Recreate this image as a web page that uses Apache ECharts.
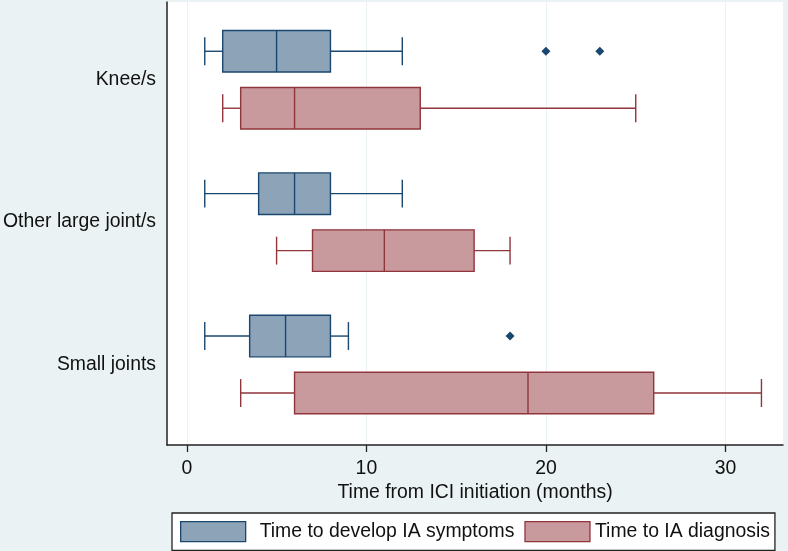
<!DOCTYPE html>
<html>
<head>
<meta charset="utf-8">
<script src="https://cdn.jsdelivr.net/npm/echarts@6/dist/echarts.min.js"></script>
<style>
html,body{margin:0;padding:0;background:#eaf2f3;}
#chart{width:788px;height:551px;}
</style>
</head>
<body>
<div id="chart"></div>
<script>
// ---- data ----
const categories = ['Knee/s', 'Other large joint/s', 'Small joints'];
const seriesNames = ['Time to develop IA symptoms', 'Time to IA diagnosis'];
// [min, Q1, median, Q3, max] per category
const symptomsStats = [
  [1, 2, 5, 8, 12],
  [1, 4, 6, 8, 12],
  [1, 3.5, 5.5, 8, 9]
];
const diagnosisStats = [
  [2, 3, 6, 13, 25],
  [5, 7, 11, 16, 18],
  [3, 6, 19, 26, 32]
];
// [value, category index]
const symptomsOutliers = [[20, 0], [23, 0], [18, 2]];
const diagnosisOutliers = [];
const xTicks = [0, 10, 20, 30];
const xAxisTitle = 'Time from ICI initiation (months)';

// ---- styles ----
const FONT = "'Liberation Sans', Arial, sans-serif";
const FS = 19.4;
const TEXT = '#111';
const BLUE_LINE = '#1a476f', BLUE_FILL = '#8da3b7';
const RED_LINE = '#90353b', RED_FILL = '#c89a9d';
const OFFSET = 0.2, BOX_HALF = 0.146, CAP_HALF = 0.098;

function boxRenderer(offset, stroke, fill) {
  return function (params, api) {
    const y = api.value(0) + offset;
    const x = [1, 2, 3, 4, 5].map(i => api.coord([api.value(i), y])[0]);
    const yc = api.coord([0, y])[1];
    const yA = api.coord([0, y - BOX_HALF])[1], yB = api.coord([0, y + BOX_HALF])[1];
    const cA = api.coord([0, y - CAP_HALF])[1], cB = api.coord([0, y + CAP_HALF])[1];
    const top = Math.min(yA, yB), h = Math.abs(yB - yA);
    const ct = Math.min(cA, cB), cb = Math.max(cA, cB);
    const ls = { stroke: stroke, lineWidth: 1.4, fill: null };
    return {
      type: 'group',
      children: [
        { type: 'line', shape: { x1: x[0], y1: yc, x2: x[1], y2: yc }, style: ls },
        { type: 'line', shape: { x1: x[3], y1: yc, x2: x[4], y2: yc }, style: ls },
        { type: 'line', shape: { x1: x[0], y1: ct, x2: x[0], y2: cb }, style: ls },
        { type: 'line', shape: { x1: x[4], y1: ct, x2: x[4], y2: cb }, style: ls },
        { type: 'rect', shape: { x: x[1], y: top, width: x[3] - x[1], height: h },
          style: { fill: fill, stroke: stroke, lineWidth: 1.4 } },
        { type: 'line', shape: { x1: x[2], y1: top, x2: x[2], y2: top + h }, style: ls }
      ]
    };
  };
}

const toRows = stats => stats.map((s, i) => [i].concat(s));

const chart = echarts.init(document.getElementById('chart'), null, { renderer: 'canvas' });
chart.setOption({
  animation: false,
  backgroundColor: '#eaf2f3',
  textStyle: { fontFamily: FONT },
  grid: {
    left: 166, right: 5, top: 2, bottom: 106,
    show: true, backgroundColor: '#ffffff', borderWidth: 0
  },
  xAxis: {
    type: 'value',
    min: -1.1, max: 33.2,
    name: xAxisTitle,
    nameLocation: 'middle',
    nameGap: 32,
    nameTextStyle: { fontSize: FS, color: TEXT, fontFamily: FONT },
    axisLine: { show: true, onZero: false, lineStyle: { color: '#222', width: 1.5 } },
    axisTick: { show: true, customValues: xTicks, length: 7, lineStyle: { color: '#222', width: 1.3 } },
    axisLabel: { customValues: xTicks, fontSize: FS, color: TEXT, margin: 14, fontFamily: FONT },
    splitLine: { show: true, lineStyle: { color: '#eaf2f3', width: 1 } }
  },
  yAxis: {
    type: 'value',
    inverse: true,
    min: -0.546, max: 2.565,
    axisLine: { show: true, onZero: false, lineStyle: { color: '#222', width: 1.5 } },
    axisTick: { show: false, customValues: [0, 1, 2] },
    axisLabel: {
      customValues: [0, 1, 2],
      formatter: v => categories[Math.round(v)] || '',
      fontSize: FS, color: TEXT, margin: 11, fontFamily: FONT,
      padding: [5, 0, 0, 0]
    },
    splitLine: { show: false }
  },
  legend: {
    left: 172, top: 513,
    orient: 'horizontal',
    backgroundColor: '#ffffff',
    borderColor: '#222', borderWidth: 1.3,
    padding: [8, 5, 8, 8],
    itemWidth: 65, itemHeight: 20, itemGap: 10,
    textStyle: { fontSize: FS, color: TEXT, fontFamily: FONT, lineHeight: 20 },
    selectedMode: false,
    data: [
      { name: seriesNames[0], icon: 'rect', itemStyle: { color: BLUE_FILL, borderColor: BLUE_LINE, borderWidth: 1.3 },
        textStyle: { padding: [0, 0, 0, 9] } },
      { name: seriesNames[1], icon: 'rect', itemStyle: { color: RED_FILL, borderColor: RED_LINE, borderWidth: 1.3 } }
    ]
  },
  series: [
    {
      name: seriesNames[0], type: 'custom',
      itemStyle: { color: BLUE_FILL, borderColor: BLUE_LINE },
      renderItem: boxRenderer(-OFFSET, BLUE_LINE, BLUE_FILL),
      encode: { x: [1, 2, 3, 4, 5], y: 0 },
      data: toRows(symptomsStats), z: 3
    },
    {
      name: seriesNames[1], type: 'custom',
      itemStyle: { color: RED_FILL, borderColor: RED_LINE },
      renderItem: boxRenderer(OFFSET, RED_LINE, RED_FILL),
      encode: { x: [1, 2, 3, 4, 5], y: 0 },
      data: toRows(diagnosisStats), z: 3
    },
    {
      name: 'symptoms outliers', type: 'scatter',
      symbol: 'diamond', symbolSize: 9,
      itemStyle: { color: BLUE_LINE, opacity: 1 },
      data: symptomsOutliers.map(([v, c]) => [v, c - OFFSET]), z: 4
    },
    {
      name: 'diagnosis outliers', type: 'scatter',
      symbol: 'diamond', symbolSize: 9,
      itemStyle: { color: RED_LINE, opacity: 1 },
      data: diagnosisOutliers.map(([v, c]) => [v, c + OFFSET]), z: 4
    }
  ]
});
</script>
</body>
</html>
